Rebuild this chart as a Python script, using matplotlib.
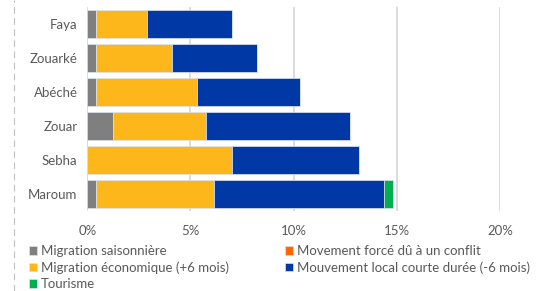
import numpy as np
import matplotlib.pyplot as plt
from matplotlib.lines import Line2D

plt.rcParams['font.family'] = ['Lato', 'DejaVu Sans']

# Data (percent)
sites = ['Faya', 'Zouarké', 'Abéché', 'Zouar', 'Sebha', 'Maroum']
saisonniere = [0.4, 0.4, 0.4, 1.23, 0.0, 0.4]
economique = [2.49, 3.71, 4.94, 4.53, 6.99, 5.75]
force = [0, 0, 0, 0, 0, 0]
local = [4.11, 4.10, 4.95, 6.98, 6.16, 8.24]
tourisme = [0, 0, 0, 0, 0, 0.41]

series = [
    ('Migration saisonnière', saisonniere, '#7f7f7f'),
    ('Migration économique (+6 mois)', economique, '#fdb71a'),
    ('Movement forcé dû à un conflit', force, '#ff6600'),
    ('Mouvement local courte durée (-6 mois)', local, '#0039a6'),
    ('Tourisme', tourisme, '#00b050'),
]

txt = '#595959'
fs = 9.5

fig = plt.figure(figsize=(5.42, 2.91), dpi=100)
ax = fig.add_axes([0.161, 0.275, 0.7615, 0.701])

y = np.arange(len(sites))
left = np.zeros(len(sites))
handles = {}
for name, vals, col in series:
    b = ax.barh(y, vals, left=left, height=0.83, color=col,
                edgecolor='#dbe3f0', linewidth=0.5, zorder=3)
    handles[name] = b
    left = left + np.array(vals)

ax.set_xlim(0, 20)
ax.set_ylim(len(sites) - 0.5, -0.5)
ax.set_yticks(y)
ax.set_yticklabels(sites)
ax.set_xticks([0, 5, 10, 15, 20])
ax.set_xticklabels(['0%', '5%', '10%', '15%', '20%'])
ax.tick_params(length=0, labelsize=fs, colors=txt)
ax.tick_params(axis='y', pad=7)
ax.tick_params(axis='x', pad=10)
ax.grid(axis='x', color='#d9d9d9', linewidth=1.3, zorder=0)
for s in ax.spines.values():
    s.set_visible(False)

order = ['Migration saisonnière', 'Migration économique (+6 mois)', 'Tourisme',
         'Movement forcé dû à un conflit', 'Mouvement local courte durée (-6 mois)']
leg = fig.legend([handles[k] for k in order], order, ncol=2,
                 loc='upper left', bbox_to_anchor=(0.053, 0.158),
                 frameon=False, fontsize=fs, handlelength=0.6, handleheight=0.6,
                 handletextpad=0.3, columnspacing=4.3, labelspacing=0.33,
                 borderaxespad=0, borderpad=0)
for t in leg.get_texts():
    t.set_color(txt)

fig.add_artist(Line2D([0.026, 0.026], [0, 1], transform=fig.transFigure,
                      color='#bfbfbf', linewidth=0.8, linestyle=(0, (6, 4))))

fig.savefig('out.png', dpi=100)
